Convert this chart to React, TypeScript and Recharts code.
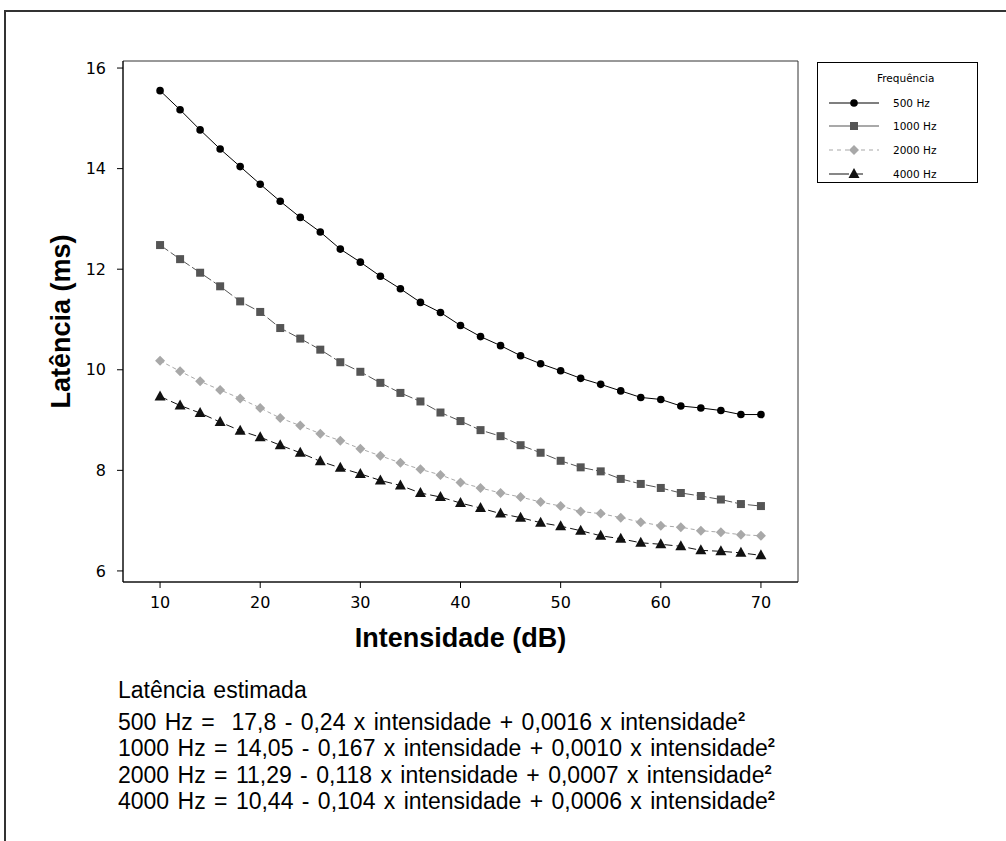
import React from "react"
import { LineChart, Line, XAxis, YAxis, ReferenceArea } from "recharts"

const intensidade = [
  10, 12, 14, 16, 18, 20, 22, 24, 26, 28, 30, 32, 34, 36, 38, 40, 42, 44, 46,
  48, 50, 52, 54, 56, 58, 60, 62, 64, 66, 68, 70,
]

const hz500 = [
  15.55, 15.17, 14.77, 14.39, 14.04, 13.69, 13.35, 13.03, 12.74, 12.4, 12.14,
  11.86, 11.61, 11.34, 11.14, 10.88, 10.66, 10.48, 10.28, 10.12, 9.98, 9.83,
  9.71, 9.58, 9.45, 9.41, 9.28, 9.24, 9.19, 9.11, 9.11,
]
const hz1000 = [
  12.48, 12.2, 11.93, 11.66, 11.36, 11.15, 10.83, 10.62, 10.4, 10.15, 9.96,
  9.74, 9.54, 9.37, 9.15, 8.98, 8.8, 8.68, 8.5, 8.35, 8.19, 8.06, 7.98, 7.83,
  7.73, 7.65, 7.55, 7.49, 7.42, 7.33, 7.29,
]
const hz2000 = [
  10.18, 9.97, 9.77, 9.6, 9.43, 9.24, 9.04, 8.89, 8.73, 8.59, 8.43, 8.29, 8.15,
  8.02, 7.91, 7.76, 7.65, 7.55, 7.47, 7.37, 7.29, 7.18, 7.14, 7.06, 6.97, 6.9,
  6.87, 6.8, 6.77, 6.72, 6.7,
]
const hz4000 = [
  9.47, 9.29, 9.14, 8.96, 8.79, 8.66, 8.5, 8.35, 8.18, 8.05, 7.93, 7.8, 7.7,
  7.55, 7.47, 7.35, 7.25, 7.14, 7.06, 6.96, 6.89, 6.8, 6.7, 6.64, 6.56, 6.53,
  6.49, 6.41, 6.39, 6.36, 6.31,
]

const xTicks = [10, 20, 30, 40, 50, 60, 70]
const yTicks = [6, 8, 10, 12, 14, 16]
const xDomain: [number, number] = [6.3, 73.7]
const yDomain: [number, number] = [5.78, 16.14]

const equations = [
  "500 Hz =  17,8 - 0,24 x intensidade + 0,0016 x intensidade",
  "1000 Hz = 14,05 - 0,167 x intensidade + 0,0010 x intensidade",
  "2000 Hz = 11,29 - 0,118 x intensidade + 0,0007 x intensidade",
  "4000 Hz = 10,44 - 0,104 x intensidade + 0,0006 x intensidade",
]

const data = intensidade.map((x, i) => ({
  x,
  a: hz500[i],
  b: hz1000[i],
  c: hz2000[i],
  d: hz4000[i],
}))

const Circle = (color: string) => (p: any) =>
  <circle key={p.key} cx={p.cx} cy={p.cy} r={3.8} fill={color} />

const Square = (color: string) => (p: any) =>
  <rect key={p.key} x={p.cx - 4} y={p.cy - 4} width={8} height={8} fill={color} />

const Diamond = (color: string) => (p: any) => (
  <polygon
    key={p.key}
    points={`${p.cx},${p.cy - 5} ${p.cx + 5},${p.cy} ${p.cx},${p.cy + 5} ${p.cx - 5},${p.cy}`}
    fill={color}
  />
)

const Triangle = (color: string) => (p: any) => (
  <polygon
    key={p.key}
    points={`${p.cx},${p.cy - 6} ${p.cx + 5.5},${p.cy + 4} ${p.cx - 5.5},${p.cy + 4}`}
    fill={color}
  />
)

const series = [
  { key: "a", name: "500 Hz", color: "#000000", dash: undefined, dot: Circle("#000000") },
  { key: "b", name: "1000 Hz", color: "#555555", dash: "10 3", dot: Square("#555555") },
  { key: "c", name: "2000 Hz", color: "#a8a8a8", dash: "4 3", dot: Diamond("#a8a8a8") },
  { key: "d", name: "4000 Hz", color: "#111111", dash: "8 4", dot: Triangle("#111111") },
]

const legendDash = [undefined, undefined, "4 4", "20 8 6 100"]

const font = "DejaVu Sans, sans-serif"
const boldFont = "Liberation Sans, Arial, sans-serif"

function LegendBox() {
  return (
    <div
      style={{
        position: "absolute",
        left: 817,
        top: 62,
        width: 161,
        height: 121,
        border: "1px solid #000",
        boxSizing: "border-box",
        background: "#fff",
        fontFamily: font,
        fontSize: 10.5,
        color: "#000",
      }}
    >
      <div style={{ marginLeft: 59, marginTop: 9, height: 19 }}>Frequência</div>
      {series.map((s, i) => (
        <div key={s.key} style={{ display: "flex", alignItems: "center", height: 23.6 }}>
          <svg width={70} height={16} style={{ marginLeft: 5 }}>
            <line x1={6} y1={8} x2={56} y2={8} stroke={s.color} strokeWidth={1.2} strokeDasharray={legendDash[i]} />
            {s.dot({ cx: 31, cy: 8, key: "m" })}
          </svg>
          <span>{s.name}</span>
        </div>
      ))}
    </div>
  )
}

const XLabel = (props: any) => {
  const vb = props.viewBox
  return (
    <text
      x={vb.x + vb.width / 2}
      y={vb.y + 65}
      textAnchor="middle"
      fill="#000"
      fontSize={27}
      fontWeight="bold"
      fontFamily={boldFont}
    >
      Intensidade (dB)
    </text>
  )
}

const YLabel = (props: any) => {
  const vb = props.viewBox
  const cx = 70
  const cy = vb.y + vb.height / 2
  return (
    <text
      x={cx}
      y={cy}
      transform={`rotate(-90, ${cx}, ${cy})`}
      textAnchor="middle"
      fill="#000"
      fontSize={27}
      fontWeight="bold"
      fontFamily={boldFont}
    >
      Latência (ms)
    </text>
  )
}

export default function App() {
  return (
    <div
      style={{
        position: "absolute",
        left: 0,
        top: 0,
        width: 1006,
        height: 841,
        background: "#fff",
        overflow: "hidden",
      }}
    >
      <div
        style={{
          position: "absolute",
          left: 4,
          top: 10,
          width: 1100,
          height: 900,
          borderTop: "2px solid #333",
          borderLeft: "2px solid #333",
        }}
      />
      <LineChart
        width={1006}
        height={841}
        data={data}
        margin={{ top: 61, right: 208, bottom: 229, left: 63 }}
        style={{ position: "absolute", left: 0, top: 0 }}
      >
        <ReferenceArea
          x1={xDomain[0]}
          x2={xDomain[1]}
          y1={yDomain[0]}
          y2={yDomain[1]}
          fill="none"
          stroke="#333"
          strokeWidth={1}
        />
        <XAxis
          dataKey="x"
          type="number"
          domain={xDomain}
          ticks={xTicks}
          height={30}
          tickSize={6}
          tickMargin={9}
          axisLine={{ stroke: "#000" }}
          tickLine={{ stroke: "#000" }}
          tick={{ fill: "#000", fontSize: 16, fontFamily: font }}
          label={<XLabel />}
          allowDataOverflow
        />
        <YAxis
          type="number"
          domain={yDomain}
          ticks={yTicks}
          width={60}
          tickSize={6}
          tickMargin={11}
          axisLine={{ stroke: "#000" }}
          tickLine={{ stroke: "#000" }}
          tick={{ fill: "#000", fontSize: 16, fontFamily: font }}
          label={<YLabel />}
          allowDataOverflow
        />
        {series.map((s) => (
          <Line
            key={s.key}
            type="linear"
            dataKey={s.key}
            name={s.name}
            stroke={s.color}
            strokeWidth={1}
            strokeDasharray={s.dash}
            dot={s.dot}
            isAnimationActive={false}
          />
        ))}
      </LineChart>
      <LegendBox />
      <div
        style={{
          position: "absolute",
          left: 118,
          top: 677,
          fontFamily: "Liberation Sans, Arial, sans-serif",
          fontSize: 23,
          wordSpacing: 2,
          color: "#000",
          lineHeight: "26.3px",
        }}
      >
        <div style={{ marginBottom: 5.7 }}>Latência estimada</div>
        {equations.map((e) => (
          <div key={e} style={{ whiteSpace: "pre" }}>
            {e}
            <sup style={{ fontSize: 13, fontWeight: "bold", verticalAlign: 9, lineHeight: 0 }}>2</sup>
          </div>
        ))}
      </div>
    </div>
  )
}
